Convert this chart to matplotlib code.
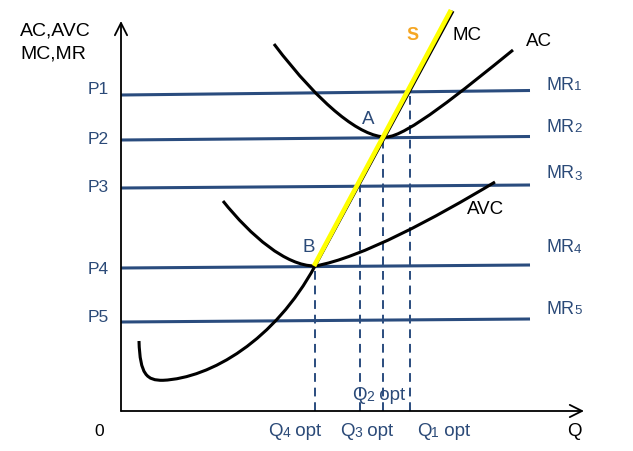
import matplotlib
matplotlib.use("Agg")
import matplotlib.pyplot as plt
from matplotlib.path import Path
from matplotlib.patches import PathPatch

plt.rcParams['font.family'] = ['Liberation Sans', 'DejaVu Sans']

BLUE = '#2a4c7e'
TXT_BLUE = '#2b4a78'
ORANGE = '#f5a623'

# price levels of the MR lines (left end, right end), line runs over q 0..409
mr_names = ['1', '2', '3', '4', '5']
mr_left = [316, 271, 223, 143, 89]
mr_right = [320.5, 274.5, 226, 146, 92]
mr_end = 409
p_label_y = [322, 273, 224, 142, 94]
mr_label_y = [327, 285, 238, 164, 103]

# curves as cubic Bezier control points (q, p)
# MC: hook at the bottom, bend up to B, then straight
mc_q = [18, 19, 26, 42, 90, 154, 194, 332]
mc_p = [70, 36, 30.5, 30.7, 33, 71, 145, 400]
mc_codes = [Path.MOVETO] + [Path.CURVE4] * 6 + [Path.LINETO]

# AVC: two cubic pieces meeting at the minimum (B)
avc_q = [102, 130, 165, 194, 240, 314, 374]
avc_p = [210, 175, 145, 145, 153, 193, 229]

# AC: two cubic pieces meeting at the minimum (A)
ac_q = [153, 200, 240, 265, 285, 342, 392]
ac_p = [367, 305, 274, 274, 274, 320.5, 361]
u_codes = [Path.MOVETO] + [Path.CURVE4] * 6

# supply curve = MC above the AVC minimum
s_q = [193, 330]
s_p = [145, 401]

# optimal quantities and the price they come down from
q_opt = [194, 239, 262, 289]
q_top = [145, 224, 272, 319]

fig = plt.figure(figsize=(6.33, 4.52), dpi=100)
ax = fig.add_axes([0, 0, 1, 1])
ax.set_xlim(-121, 512)
ax.set_ylim(-40, 412)
ax.axis('off')

# axes with open arrow heads
for tip in [(0, 390), (463, 0)]:
    ax.annotate('', xy=tip, xytext=(0, 0),
                arrowprops=dict(arrowstyle='->', lw=1.3, color='black',
                                mutation_scale=22, shrinkA=0, shrinkB=0))

for l, r in zip(mr_left, mr_right):
    ax.plot([0, mr_end], [l, r], color=BLUE, lw=2.2, zorder=2, solid_capstyle='butt')

for q, top in zip(q_opt, q_top):
    ax.plot([q, q], [0, top], color=BLUE, lw=1.4, dashes=(4.5, 3), zorder=2)

for qs, ps, codes in [(mc_q, mc_p, mc_codes), (avc_q, avc_p, u_codes), (ac_q, ac_p, u_codes)]:
    path = Path(list(zip(qs, ps)), codes)
    ax.add_patch(PathPatch(path, facecolor='none', edgecolor='black', lw=2.2,
                           zorder=3, capstyle='butt'))

ax.plot(s_q, s_p, color='#ffff00', lw=3.4, zorder=4, solid_capstyle='butt')


def piece_label(x, y, parts, color):
    # parts: list of (text, fontsize); small digits sit on the baseline
    t = ax.text(x, y, parts[0][0], fontsize=parts[0][1], color=color,
                ha='left', va='center')
    for s, fs in parts[1:]:
        t = ax.annotate(s, xy=(1, 0), xycoords=t, fontsize=fs, color=color,
                        ha='left', va='bottom')
    return t


ax.text(-101, 381, 'AC,AVC', fontsize=14, ha='left', va='center')
ax.text(-101, 358, 'MC,MR', fontsize=14, ha='left', va='center')

for i, name in enumerate(mr_names):
    ax.text(-12, p_label_y[i], 'P' + name, fontsize=12.5, color=TXT_BLUE,
            ha='right', va='center')
    piece_label(425, mr_label_y[i], [('MR', 13), (name, 9.5)], TXT_BLUE)

piece_label(147, -20, [('Q', 13.5), ('4', 10), (' opt', 13.5)], TXT_BLUE)
piece_label(219, -20, [('Q', 13.5), ('3', 10), (' opt', 13.5)], TXT_BLUE)
piece_label(296, -20, [('Q', 13.5), ('1', 10), (' opt', 13.5)], TXT_BLUE)
piece_label(231, 16, [('Q', 13.5), ('2', 10), (' opt', 13.5)], TXT_BLUE)

ax.text(446, -20, 'Q', fontsize=13.5, ha='left', va='center')
ax.text(-22, -20, '0', fontsize=12.5, ha='center', va='center')

ax.text(285, 377, 'S', fontsize=13, color=ORANGE, fontweight='bold',
        ha='left', va='center')
ax.text(332, 376, 'MC', fontsize=13.5, ha='left', va='center')
ax.text(405, 370, 'AC', fontsize=13.5, ha='left', va='center')
ax.text(346, 202, 'AVC', fontsize=13.5, ha='left', va='center')
ax.text(241, 292, 'A', fontsize=13.5, color=TXT_BLUE, ha='left', va='center')
ax.text(181, 164, 'B', fontsize=13.5, color=TXT_BLUE, ha='left', va='center')

fig.savefig('out.png', dpi=100)
